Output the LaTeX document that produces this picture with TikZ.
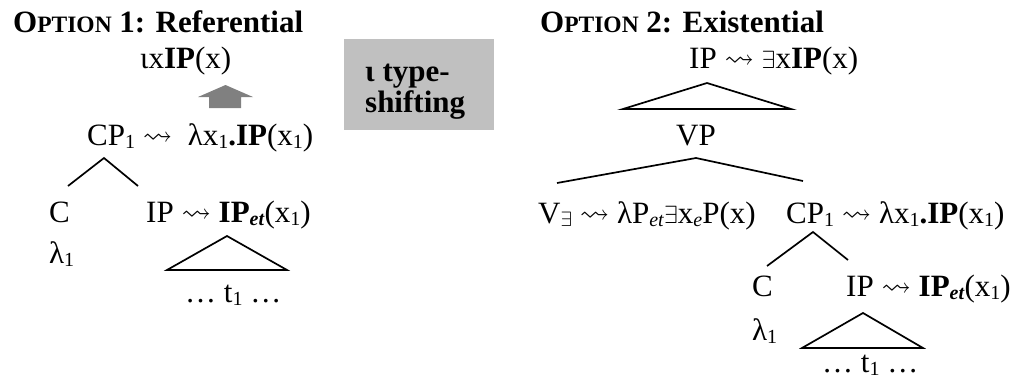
\documentclass[tikz,border=0pt]{standalone}
\usepackage{amssymb}
\usepackage{fontspec}
\setmainfont{Liberation Serif}
\definecolor{boxgray}{HTML}{C0C0C0}
\definecolor{arrowgray}{HTML}{808080}
\newcommand{\lo}[1]{\raisebox{-0.1em}{\fontsize{20}{20}\selectfont #1}}
\newcommand{\sqarr}{\raisebox{0.02em}{\scalebox{0.95}{$\rightsquigarrow$}}}
\newcommand{\opt}{\bfseries O{\fontsize{23.5}{23.5}\selectfont PTION}}
\begin{document}
\begin{tikzpicture}[x=1pt,y=-1pt,
  txt/.style={anchor=base west, inner sep=0pt, font=\fontsize{31}{36}\selectfont},
  bold/.style={txt, font=\fontsize{31}{36}\selectfont\bfseries},
  branch/.style={line width=1.7pt, line join=miter}]
\useasboundingbox (0,0) rectangle (1010,381);

% ---------------- Option 1 ----------------
\node[txt] (title1) at (13,32) {\opt{} 1: Referential};
\node[txt] (iota) at (140,68) {ιx\textbf{IP}(x)};
\coordinate (ua) at (225.5,85);
\fill[arrowgray] (198,97) -- (ua) -- (253,97) -- (241,97) -- (241,108) -- (209,108) -- (209,97) -- cycle;

\node[txt] (cpA) at (87,145) {CP\lo{1} \sqarr{}\ \ λx\lo{1}\textbf{.IP}(x\lo{1})};
\coordinate (cpAtop) at (104,158);
\coordinate (cAend) at (68,186);
\coordinate (ipAend) at (138,186);
\draw[branch] (cAend) -- (cpAtop) -- (ipAend);

\node[txt] (cA) at (49,222) {C};
\node[txt] (ipA) at (146,222) {IP \sqarr{} \textbf{IP}\lo{\textbf{\textit{et}}}(x\lo{1})};
\node[txt] (lamA) at (49,263) {λ\lo{1}};
\coordinate (triAtop) at (227,236);
\coordinate (triAl) at (167,270);
\coordinate (triAr) at (287,270);
\draw[branch] (triAl) -- (triAtop) -- (triAr) -- cycle;
\node[txt] (tA) at (185,302) {… t\lo{1} …};

% ---------------- box ----------------
\node[fill=boxgray, anchor=north west, minimum width=150pt, minimum height=91pt, inner sep=0pt] (box) at (344,39) {};
\node[bold] (boxl1) at (365,81) {ι type-};
\node[bold] (boxl2) at (365,112) {shifting};

% ---------------- Option 2 ----------------
\node[txt] (title2) at (540,32) {\opt{} 2: Existential};
\node[txt] (ipE) at (689,68) {IP \sqarr{} $\exists$x\textbf{IP}(x)};
\coordinate (triEtop) at (707,83);
\coordinate (triEl) at (623,109);
\coordinate (triEr) at (791,109);
\draw[branch] (triEl) -- (triEtop) -- (triEr) -- cycle;

\node[txt] (vp) at (676,145) {VP};
\coordinate (vptop) at (696,158);
\coordinate (vend) at (557,183);
\coordinate (cpBend) at (803,181);
\draw[branch] (vend) -- (vptop) -- (cpBend);

\node[txt] (v) at (538,223) {V\lo{$\exists$} \sqarr{} λP\lo{\textit{et}}$\exists$x\lo{\textit{e}}P(x)};
\node[txt] (cpB) at (786,223) {CP\lo{1} \sqarr{} λx\lo{1}\textbf{.IP}(x\lo{1})};
\coordinate (cpBtop) at (813,232);
\coordinate (cBend) at (767,266);
\coordinate (ipBend) at (848,260);
\draw[branch] (cBend) -- (cpBtop) -- (ipBend);

\node[txt] (cB) at (752,296) {C};
\node[txt] (ipB) at (846,296) {IP \sqarr{} \textbf{IP}\lo{\textbf{\textit{et}}}(x\lo{1})};
\node[txt] (lamB) at (752,340) {λ\lo{1}};
\coordinate (triBtop) at (863,313);
\coordinate (triBl) at (802,348);
\coordinate (triBr) at (923,348);
\draw[branch] (triBl) -- (triBtop) -- (triBr) -- cycle;
\node[txt] (tB) at (822,372) {… t\lo{1} …};
\end{tikzpicture}
\end{document}
